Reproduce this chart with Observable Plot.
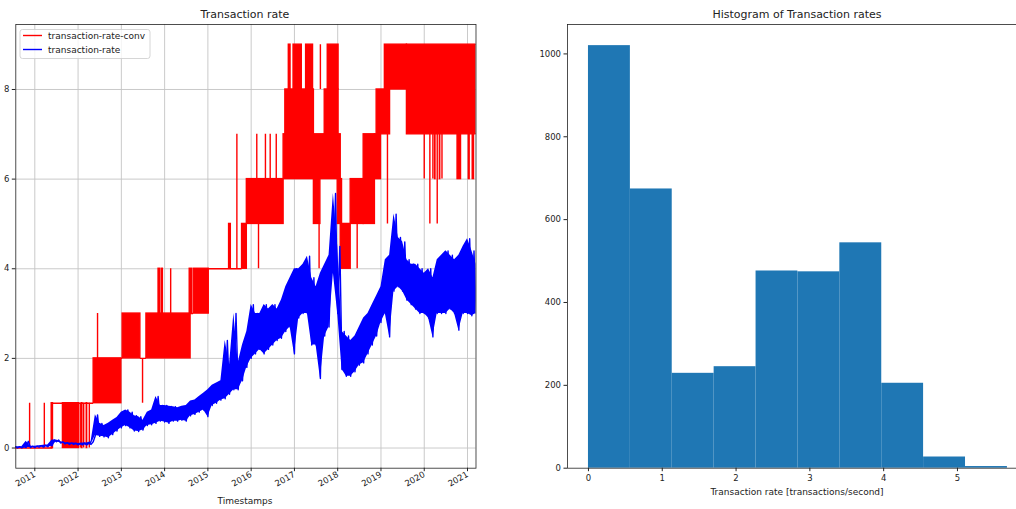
<!DOCTYPE html>
<html>
<head>
<meta charset="utf-8">
<script src="https://cdn.jsdelivr.net/npm/d3@7"></script>
<script src="https://cdn.jsdelivr.net/npm/@observablehq/plot@0.6"></script>
<style>
  body { margin: 0; background: #fff; }
  #fig { position: relative; width: 1016px; height: 509px; overflow: hidden;
         font-family: "DejaVu Sans", sans-serif; color: #222; background: #fff; }
  #fig > svg { position: absolute; }
</style>
</head>
<body>
<div id="fig">
  <svg id="labels" width="1016" height="509" style="left:0;top:0" font-family="DejaVu Sans, sans-serif" fill="#222">
    <text x="245" y="18" font-size="11" text-anchor="middle">Transaction rate</text>
    <text x="797" y="18" font-size="11" text-anchor="middle">Histogram of Transaction rates</text>
    <text x="245" y="504" font-size="9" text-anchor="middle">Timestamps</text>
    <text x="797" y="495" font-size="9" text-anchor="middle">Transaction rate [transactions/second]</text>
    <g>
      <rect x="20" y="29.5" width="130" height="29" rx="2.5" fill="#fff" fill-opacity="0.8" stroke="#cccccc" stroke-width="0.8"></rect>
      <line x1="23" x2="42" y1="35.5" y2="35.5" stroke="#ff0000" stroke-width="1.4"></line>
      <line x1="23" x2="42" y1="49.5" y2="49.5" stroke="#0000ff" stroke-width="1.4"></line>
      <text x="48" y="38.8" font-size="9">transaction-rate-conv</text>
      <text x="48" y="52.8" font-size="9">transaction-rate</text>
    </g>
  </svg>
</div>
<script>
// ---- time axis (decimal years) ----
const yearTicks = [2011, 2012, 2013, 2014, 2015, 2016, 2017, 2018, 2019, 2020, 2021];
const rateTicks = [0, 2, 4, 6, 8];

// transaction-rate: local low / high of the noisy series, sampled every 0.1 year
const blueT = [
  2010.5, 2010.6, 2010.7, 2010.8, 2010.9,
  2011.0, 2011.1, 2011.2, 2011.3, 2011.4, 2011.5, 2011.6, 2011.7, 2011.8, 2011.9,
  2012.0, 2012.1, 2012.2, 2012.3, 2012.4, 2012.5, 2012.6, 2012.7, 2012.8, 2012.9,
  2013.0, 2013.1, 2013.2, 2013.3, 2013.4, 2013.5, 2013.6, 2013.7, 2013.8, 2013.9,
  2014.0, 2014.1, 2014.2, 2014.3, 2014.4, 2014.5, 2014.6, 2014.7, 2014.8, 2014.9,
  2015.0, 2015.1, 2015.2, 2015.3, 2015.4, 2015.5, 2015.6, 2015.7, 2015.8, 2015.9,
  2016.0, 2016.1, 2016.2, 2016.3, 2016.4, 2016.5, 2016.6, 2016.7, 2016.8, 2016.9,
  2017.0, 2017.1, 2017.2, 2017.3, 2017.4, 2017.5, 2017.6, 2017.7, 2017.8, 2017.9,
  2018.0, 2018.1, 2018.2, 2018.3, 2018.4, 2018.5, 2018.6, 2018.7, 2018.8, 2018.9,
  2019.0, 2019.1, 2019.2, 2019.3, 2019.4, 2019.5, 2019.6, 2019.7, 2019.8, 2019.9,
  2020.0, 2020.1, 2020.2, 2020.3, 2020.4, 2020.5, 2020.6, 2020.7, 2020.8, 2020.9,
  2021.0, 2021.1, 2021.2
];
const blueLo = [
  0.00, 0.00, 0.00, 0.01, 0.01,
  0.01, 0.02, 0.02, 0.03, 0.05, 0.14, 0.11, 0.09, 0.08, 0.08,
  0.07, 0.07, 0.07, 0.08, 0.28, 0.26, 0.25, 0.23, 0.30, 0.38,
  0.45, 0.50, 0.45, 0.38, 0.37, 0.40, 0.50, 0.52, 0.55, 0.60,
  0.58, 0.55, 0.60, 0.60, 0.62, 0.60, 0.72, 0.75, 0.80, 0.85,
  0.70, 0.95, 1.00, 1.07, 1.10, 1.20, 1.30, 1.30, 1.50, 1.80,
  2.00, 2.10, 2.20, 2.10, 2.20, 2.30, 2.40, 2.45, 2.60, 2.70,
  2.10, 2.90, 3.00, 3.00, 2.30, 2.30, 1.55, 2.50, 2.70, 3.90,
  3.00, 1.75, 1.60, 1.60, 1.70, 1.85, 1.90, 2.10, 2.30, 2.50,
  2.80, 3.00, 2.48, 3.50, 3.60, 3.50, 3.30, 3.20, 3.10, 3.00,
  3.00, 2.90, 2.48, 3.00, 3.00, 3.00, 3.10, 3.00, 2.63, 3.00,
  3.00, 2.95, 3.00
];
const blueHi = [
  0.03, 0.03, 0.03, 0.15, 0.04,
  0.04, 0.05, 0.06, 0.07, 0.18, 0.18, 0.14, 0.12, 0.11, 0.11,
  0.10, 0.11, 0.11, 0.14, 0.74, 0.55, 0.50, 0.55, 0.62, 0.68,
  0.80, 0.85, 0.80, 0.72, 0.70, 0.62, 0.80, 0.85, 1.15, 0.95,
  0.95, 0.93, 0.92, 0.90, 0.93, 0.95, 1.05, 1.07, 1.15, 1.22,
  1.30, 1.40, 1.45, 1.50, 2.40, 1.85, 3.00, 1.90, 2.30, 2.60,
  3.20, 3.00, 3.00, 3.20, 3.10, 3.20, 3.10, 3.30, 3.60, 3.80,
  4.00, 4.00, 4.10, 4.28, 3.80, 3.60, 3.90, 4.10, 4.30, 5.68,
  4.50, 2.60, 2.50, 2.40, 2.50, 2.70, 2.90, 3.00, 3.20, 3.40,
  3.60, 4.20, 4.30, 5.22, 4.70, 4.60, 4.20, 4.10, 4.10, 4.00,
  3.90, 4.00, 3.80, 4.20, 4.30, 4.40, 4.30, 4.20, 4.30, 4.50,
  4.67, 4.40, 4.10
];

// transaction-rate-conv: integer step levels; spans where it flips rapidly
// between two levels are stored as [start, end, low, high]
const redStart = [2010.50, 2010.88, 2011.22, 2011.39, 2011.42, 2011.65, 2012.02, 2012.05, 2012.09, 2012.13,
                  2012.20, 2012.26, 2012.36, 2012.45, 2013.00, 2013.03, 2013.44, 2013.49, 2013.58, 2013.86,
                  2013.93, 2014.14, 2014.58, 2014.60, 2014.67, 2015.02, 2015.49, 2015.67, 2015.79, 2015.90,
                  2016.17, 2016.13, 2016.33, 2016.44, 2016.58, 2016.75, 2016.79, 2016.87, 2016.98, 2017.27,
                  2017.45, 2017.57, 2017.60, 2017.70, 2017.77, 2018.00, 2018.07, 2018.30, 2018.45, 2018.60,
                  2018.86, 2018.90, 2019.09, 2019.15, 2019.60, 2020.00, 2020.13, 2020.20, 2020.25, 2020.30,
                  2020.36, 2020.41, 2020.77, 2021.03, 2021.12];
const redEnd   = [2011.42, 2010.88, 2011.22, 2011.42, 2011.65, 2012.02, 2012.36, 2012.05, 2012.10, 2012.13,
                  2012.21, 2012.26, 2013.00, 2012.45, 2013.03, 2013.44, 2013.58, 2013.49, 2014.60, 2013.89,
                  2013.96, 2014.14, 2014.63, 2014.67, 2015.02, 2015.79, 2015.53, 2015.67, 2015.90, 2016.75,
                  2016.17, 2016.13, 2016.33, 2016.44, 2016.58, 2018.07, 2017.45, 2016.91, 2017.17, 2017.43,
                  2017.60, 2017.57, 2017.60, 2018.02, 2018.02, 2018.10, 2018.30, 2018.60, 2018.45, 2018.86,
                  2019.00, 2019.21, 2019.60, 2019.15, 2021.30, 2020.00, 2020.13, 2020.20, 2020.26, 2020.30,
                  2020.37, 2020.41, 2020.85, 2021.05, 2021.15];
const redLo    = [0, 0, 0, 0, 1, 0, 1, 0, 0, 0,
                  0, 0, 1, 2, 2, 2, 2, 1, 2, 3,
                  3, 3, 3, 3, 3, 4, 4, 4, 4, 5,
                  4, 6, 6, 6, 6, 6, 7, 8, 8, 8,
                  5, 4, 8, 7, 8, 5, 4, 5, 4, 5,
                  6, 7, 8, 5, 7, 6, 5, 6, 6, 5,
                  6, 6, 6, 6, 6];
const redHi    = [0, 1, 1, 1, 1, 1, 1, 1, 1, 1,
                  1, 1, 2, 3, 2, 3, 2, 2, 3, 4,
                  4, 4, 4, 3, 4, 4, 5, 7, 5, 6,
                  5, 7, 7, 7, 7, 7, 8, 9, 9, 9,
                  6, 5, 9, 8, 9, 6, 5, 6, 5, 7,
                  7, 8, 9, 7, 9, 7, 7, 7, 7, 7,
                  7, 7, 7, 7, 7];

// histogram of transaction-rate
const binEdges = [0, 0.568, 1.135, 1.703, 2.271, 2.838, 3.406, 3.974, 4.541, 5.109, 5.677];
const binCounts = [1020, 674, 229, 245, 476, 474, 544, 205, 27, 4];
const rateAxisTicks = [0, 1, 2, 3, 4, 5];
const countTicks = [0, 200, 400, 600, 800, 1000];

// ---- derived tables ----
const blueRows = blueT.map((t, i) => ({t, lo: blueLo[i], hi: blueHi[i]}));
const bluePts = [];
blueRows.forEach(d => {
  bluePts.push({t: d.t, v: d.lo});
  bluePts.push({t: d.t + 0.05, v: d.hi});
});
const seg = redStart.map((s, i) => ({s, e: redEnd[i], lo: redLo[i], hi: redHi[i]}));
const bands = seg.filter(d => d.s !== d.e && d.lo !== d.hi);
const flats = seg.filter(d => d.lo === d.hi);
const spikes = seg.filter(d => d.s === d.e);
const bins = binCounts.map((n, i) => ({a: binEdges[i], b: binEdges[i + 1], n}));

const axisStyle = {fontFamily: "DejaVu Sans, sans-serif", fontSize: "8.5px", color: "#222",
                   background: "transparent", overflow: "visible"};
const gridStyle = {stroke: "#c4c4c4", strokeOpacity: 1, strokeWidth: 0.9};
const lw = 1.4;

const lineChart = Plot.plot({
  width: 478, height: 487.7,
  marginTop: 4, marginLeft: 15.3, marginRight: 2.5, marginBottom: 40,
  x: {domain: [2010.561, 2021.196]},
  y: {domain: [-0.45, 9.45]},
  style: axisStyle,
  marks: [
    Plot.gridX(yearTicks, gridStyle),
    Plot.gridY(rateTicks, gridStyle),
    Plot.rect(bands, {x1: "s", x2: "e", y1: "lo", y2: "hi", fill: "#ff0000", stroke: "#ff0000", strokeWidth: lw, clip: true}),
    Plot.ruleY(flats, {y: "lo", x1: "s", x2: "e", stroke: "#ff0000", strokeWidth: lw, clip: true}),
    Plot.ruleX(spikes, {x: "s", y1: "lo", y2: "hi", stroke: "#ff0000", strokeWidth: lw, clip: true}),
    // dense noise band of the raw rate, then its extremes traced as a line
    Plot.areaY(blueRows, {x: "t", y1: "lo", y2: "hi", fill: "#0000ff", clip: true}),
    Plot.line(bluePts, {x: "t", y: "v", stroke: "#0000ff", strokeWidth: lw, clip: true}),
    Plot.frame({stroke: "#222", strokeWidth: 0.8}),
    Plot.axisX(yearTicks, {tickFormat: "d", tickRotate: -30, tickSize: 3.5, tickPadding: 2, label: null}),
    Plot.axisY(rateTicks, {tickSize: 3.5, tickPadding: 3, label: null})
  ]
});
lineChart.style.left = "0px";
lineChart.style.top = "20px";

const histChart = Plot.plot({
  width: 507.9, height: 487.7,
  marginTop: 4, marginLeft: 42, marginRight: 5, marginBottom: 40,
  x: {domain: [-0.284, 5.961]},
  y: {domain: [0, 1071]},
  style: axisStyle,
  marks: [
    Plot.rect(bins, {x1: "a", x2: "b", y1: 0, y2: "n", fill: "#1f77b4"}),
    Plot.frame({stroke: "#222", strokeWidth: 0.8}),
    Plot.axisX(rateAxisTicks, {tickSize: 3.5, tickPadding: 3, label: null}),
    Plot.axisY(countTicks, {tickFormat: "d", tickSize: 3.5, tickPadding: 3, label: null})
  ]
});
histChart.style.left = "524.7px";
histChart.style.top = "20px";

const fig = document.getElementById("fig");
fig.insertBefore(histChart, fig.firstChild);
fig.insertBefore(lineChart, fig.firstChild);
</script>
</body>
</html>
